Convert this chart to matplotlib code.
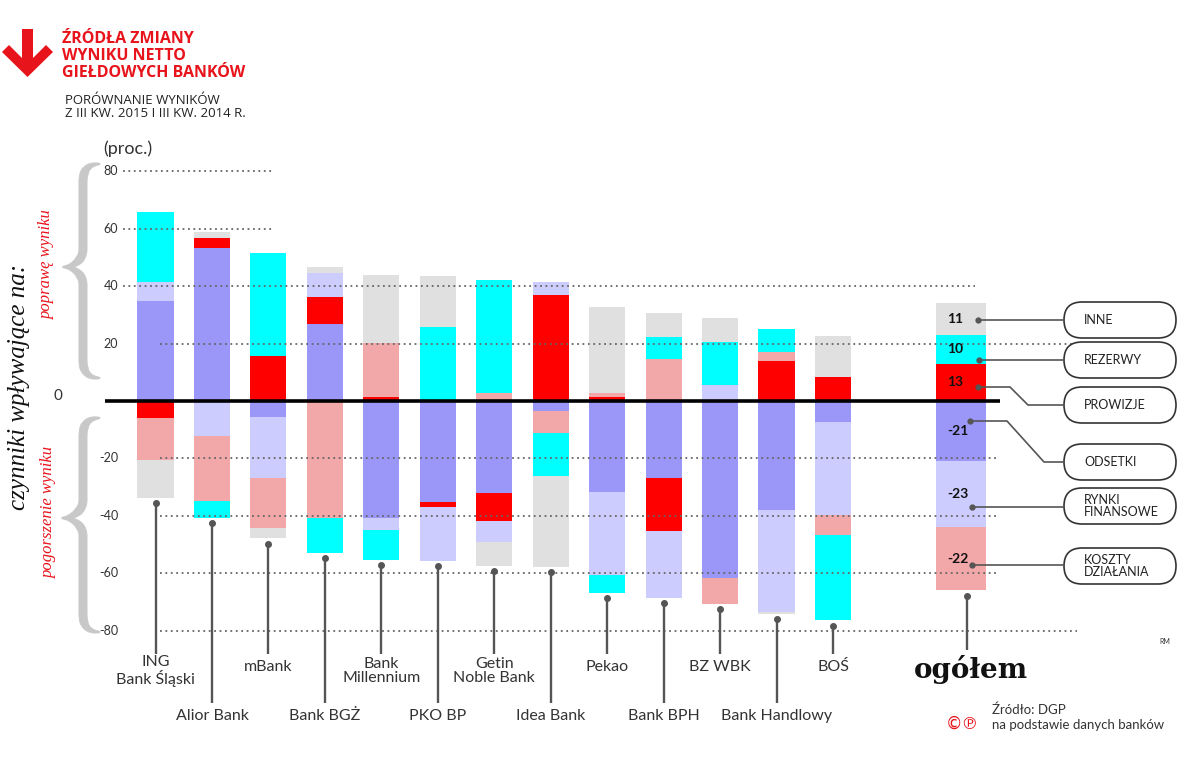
import numpy as np
import matplotlib
matplotlib.use("Agg")
import matplotlib.pyplot as plt
from matplotlib import transforms
from matplotlib.patches import FancyBboxPatch, Polygon

# ---------------- data ----------------
banks = ["ING\nBank Śląski", "Alior Bank", "mBank", "Bank BGŻ", "Bank\nMillennium", "PKO BP",
         "Getin\nNoble Bank", "Idea Bank", "Pekao", "Bank BPH", "BZ WBK", "Bank Handlowy", "BOŚ"]
total_label = "ogółem"

# order of stacking (from the zero line outwards)
odsetki  = [34.8, 53.4, -5.5, 26.8, -40.9, -35.3, -32.2, -3.4, -31.6, -26.9, -61.8, -38.0, -7.4, -21]
prowizje = [-6.0, 3.3, 15.7, 9.5, 1.3, -1.5, -9.5, 36.9, 1.5, -18.4, 0.0, 14.0, 8.5, 13]
rynki    = [6.7, -12.2, -21.5, 8.2, -4.0, -18.9, -7.3, 4.6, -29.0, -23.3, 5.6, -35.6, -32.4, -23]
koszty   = [-14.5, -22.6, -17.4, -40.9, 18.8, 0.0, 2.7, -7.9, 1.2, 14.5, -8.9, 2.9, -7.0, -22]
rezerwy  = [24.2, -5.8, 36.0, -12.0, -10.5, 25.9, 39.5, -14.9, -6.2, 7.7, 15.1, 8.1, -29.6, 10]
inne     = [-13.3, 2.3, -3.5, 2.3, 23.8, 17.7, -8.4, -31.6, 30.0, 8.6, 8.2, -0.5, 14.2, 11]

series_names = ["ODSETKI", "PROWIZJE", "RYNKI\nFINANSOWE", "KOSZTY\nDZIAŁANIA", "REZERWY", "INNE"]
colors = ["#9b97f8", "#ff0000", "#ccccff", "#f2a7a9", "#00ffff", "#e0e0e0"]
y_ticks = [80, 60, 40, 20, -20, -40, -60, -80]

# ---------------- figure ----------------
W, H = 1200, 769
fig = plt.figure(figsize=(W / 100, H / 100), dpi=100)
fig.patch.set_facecolor("white")
ax = fig.add_axes([0, 0, 1, 1])

X0, DX = 155.5, 56.46        # pixel x of first bar, pixels per category
Y0, DY = 401.0, 2.87         # pixel y of zero line, pixels per unit


def px(x):
    return (x - X0) / DX


def py(y):
    return (Y0 - y) / DY


ax.set_xlim(px(0), px(W))
ax.set_ylim(py(H), py(0))
ax.axis("off")

# pixel transform (x right, y down) for decorations
T = transforms.Affine2D().scale(1 / W, -1 / H).translate(0, 1) + fig.transFigure

SANS = ["Lato", "DejaVu Sans"]
TXT = "#333333"

# ---------------- bars ----------------
data = np.array([odsetki, prowizje, rynki, koszty, rezerwy, inne], dtype=float)
n = data.shape[1]
xpos = np.array(list(range(len(banks))) + [14.26])
widths = np.array([0.64] * len(banks) + [0.886])
pos_cum = np.zeros(n)
neg_cum = np.zeros(n)
bottoms_all = []
for vals, c in zip(data, colors):
    bottoms = np.where(vals >= 0, pos_cum, neg_cum)
    bottoms_all.append(bottoms.copy())
    ax.bar(xpos, vals, width=widths, bottom=bottoms, color=c, linewidth=0, zorder=2)
    pos_cum += np.clip(vals, 0, None)
    neg_cum += np.clip(vals, None, 0)

# ---------------- grid ----------------
grid_extent = {80: (123, 273), 60: (123, 273), 40: (123, 975), 20: (160, 1073),
               -20: (160, 998), -40: (160, 998), -60: (160, 998), -80: (160, 1077)}
for v in y_ticks:
    a, b = grid_extent[v]
    ax.hlines(v, px(a), px(b), colors="#666666", linewidth=1.3,
              linestyles=(0, (1.0, 2.0)), zorder=3)
    ax.text(px(118), v, f"{v}", ha="right", va="center", fontsize=9,
            color=TXT, family=SANS)
ax.text(px(58), py(396), "0", ha="center", va="center", fontsize=11, color=TXT, family=SANS)
ax.hlines(0, px(105), px(1000), colors="black", linewidth=2.6, zorder=5)
ax.text(103, 154, "(proc.)", transform=T, ha="left", va="baseline", fontsize=13,
        color=TXT, family=SANS)

# ---------------- stems + bank labels ----------------
for i, name in enumerate(banks):
    bot = neg_cum[i]
    dot = bot - 1.9
    top_row = (i % 2 == 0)
    end = py(654) if top_row else py(703)
    ax.plot([xpos[i], xpos[i]], [dot, end], color="#555555", lw=1.7, zorder=4,
            solid_capstyle="butt")
    ax.plot([xpos[i]], [dot], "o", ms=4, color="#555555", zorder=4)
    if top_row:
        ly = py(671) if "\n" in name else py(667)
    else:
        ly = py(716)
    ax.text(xpos[i], ly, name, ha="center", va="center", fontsize=11.5, color=TXT,
            family=SANS, linespacing=1.05)

# total stem
i = n - 1
sx = xpos[i] + 0.11
ax.plot([sx, sx], [neg_cum[i] - 1.9, py(650)], color="#555555", lw=1.7, zorder=4,
        solid_capstyle="butt")
ax.plot([sx], [neg_cum[i] - 1.9], "o", ms=4, color="#555555", zorder=4)
ax.text(px(971), py(678), total_label, ha="center", va="baseline", fontsize=20,
        fontweight="bold", family=["DejaVu Serif"], color="#111111")

# value labels in the total bar
for k in range(len(series_names)):
    v = data[k, i]
    yc = bottoms_all[k][i] + v / 2
    ax.text(px(947), yc, f"{v:g}", ha="left", va="center", fontsize=10,
            fontweight="bold", color="#111111", family=SANS, zorder=6)

# ---------------- legend boxes ----------------
box_y = {"INNE": 320, "REZERWY": 360, "PROWIZJE": 405, "ODSETKI": 462,
         "RYNKI\nFINANSOWE": 506, "KOSZTY\nDZIAŁANIA": 566}
conn = {"INNE": [(978, 320), (1064, 320)],
        "REZERWY": [(979, 360), (1064, 360)],
        "PROWIZJE": [(978, 387), (1010, 387), (1028, 405), (1064, 405)],
        "ODSETKI": [(970, 421), (1007, 421), (1044, 462), (1064, 462)],
        "RYNKI\nFINANSOWE": [(972, 507), (1064, 507)],
        "KOSZTY\nDZIAŁANIA": [(972, 565), (1064, 565)]}
for name in series_names:
    cy = box_y[name]
    ax.add_patch(FancyBboxPatch((1064, cy - 18), 112, 36,
                                boxstyle="round,pad=0,rounding_size=18", transform=T,
                                fc="white", ec="#333333", lw=1.2, zorder=6))
    ax.text(1084, cy, name, transform=T, ha="left", va="center", fontsize=9,
            color="#222222", family=SANS, linespacing=1.0, zorder=7)
    pts = np.array(conn[name], dtype=float)
    ax.plot(pts[:, 0], pts[:, 1], transform=T, color="#555555", lw=1.2, zorder=7)
    ax.plot([pts[0, 0]], [pts[0, 1]], "o", ms=3.5, transform=T, color="#555555", zorder=7)


# ---------------- braces ----------------
def bez(p0, p1, p2, p3, m=40):
    t = np.linspace(0, 1, m)[:, None]
    p0, p1, p2, p3 = map(np.asarray, (p0, p1, p2, p3))
    return (1 - t) ** 3 * p0 + 3 * (1 - t) ** 2 * t * p1 + 3 * (1 - t) * t ** 2 * p2 + t ** 3 * p3


def half_brace(x_end, x_mid, x_tip, y_end, y_tip):
    s = 1 if y_tip > y_end else -1
    r = 18
    a = bez((x_end, y_end), (x_mid + 6, y_end), (x_mid, y_end + s * 5), (x_mid, y_end + s * r))
    b = np.column_stack([np.full(30, x_mid), np.linspace(y_end + s * r, y_tip - s * r, 30)])
    c = bez((x_mid, y_tip - s * r), (x_mid, y_tip - s * 6), (x_tip + 9, y_tip), (x_tip, y_tip))
    P = np.vstack([a, b[1:], c[1:]])
    d = np.gradient(P, axis=0)
    d /= np.hypot(d[:, 0], d[:, 1])[:, None]
    nrm = np.column_stack([-d[:, 1], d[:, 0]])
    seg = np.hypot(*np.diff(P, axis=0).T)
    u = np.concatenate([[0], np.cumsum(seg)]) / seg.sum()
    w = 0.7 + 3.4 * np.clip(np.sin(np.pi * u) * 2.2, 0, 1)
    poly = np.vstack([P + nrm * w[:, None], (P - nrm * w[:, None])[::-1]])
    ax.add_patch(Polygon(poly, closed=True, transform=T, fc="#c8c8c8", ec="#c8c8c8",
                         lw=0.5, zorder=1))


half_brace(100, 83, 63, 164, 267)
half_brace(100, 83, 63, 378, 267)
half_brace(100, 83, 62, 418, 518)
half_brace(100, 83, 62, 632, 518)

ax.text(47, 264, "poprawę wyniku", transform=T, rotation=90, ha="center", va="center",
        fontsize=12, style="italic", color="#e8141b", family=["Liberation Serif"])
ax.text(49, 512, "pogorszenie wyniku", transform=T, rotation=90, ha="center", va="center",
        fontsize=12, style="italic", color="#e8141b", family=["Liberation Serif"])
ax.text(19, 387, "czynniki wpływające na:", transform=T, rotation=90, ha="center",
        va="center", fontsize=18, style="italic", color="#111111", family=["Liberation Serif"])

# ---------------- title ----------------
arrow = [(22, 29), (33, 29), (33, 58), (46, 45), (53, 52), (27.5, 77), (2, 52), (9, 45), (22, 58)]
ax.add_patch(Polygon(arrow, closed=True, transform=T, fc="#e8141b", ec="none"))
RED = "#e8141b"
for txt, yb in [("ŹRÓDŁA ZMIANY", 43), ("WYNIKU NETTO", 60), ("GIEŁDOWYCH BANKÓW", 77)]:
    ax.text(62, yb, txt, transform=T, ha="left", va="baseline", fontsize=11.5,
            fontweight="bold", color=RED, family=["Open Sans", "DejaVu Sans"])
for txt, yb in [("PORÓWNANIE WYNIKÓW", 104), ("Z III KW. 2015 I III KW. 2014 R.", 117)]:
    ax.text(65, yb, txt, transform=T, ha="left", va="baseline", fontsize=9.5,
            color="#222222", family=["Open Sans", "DejaVu Sans"])

# ---------------- footer ----------------
ax.text(1165, 642, "RM", transform=T, ha="center", va="center", fontsize=5, color=TXT,
        family=SANS)
ax.text(992, 710, "Źródło: DGP", transform=T, ha="left", va="center", fontsize=9.5,
        color=TXT, family=SANS)
ax.text(992, 725, "na podstawie danych banków", transform=T, ha="left", va="center",
        fontsize=9.5, color=TXT, family=SANS)
ax.text(962, 724, "©℗", transform=T, ha="center", va="center", fontsize=12,
        color=RED, family=["DejaVu Sans"])

fig.savefig("out.png", dpi=100, facecolor="white")
